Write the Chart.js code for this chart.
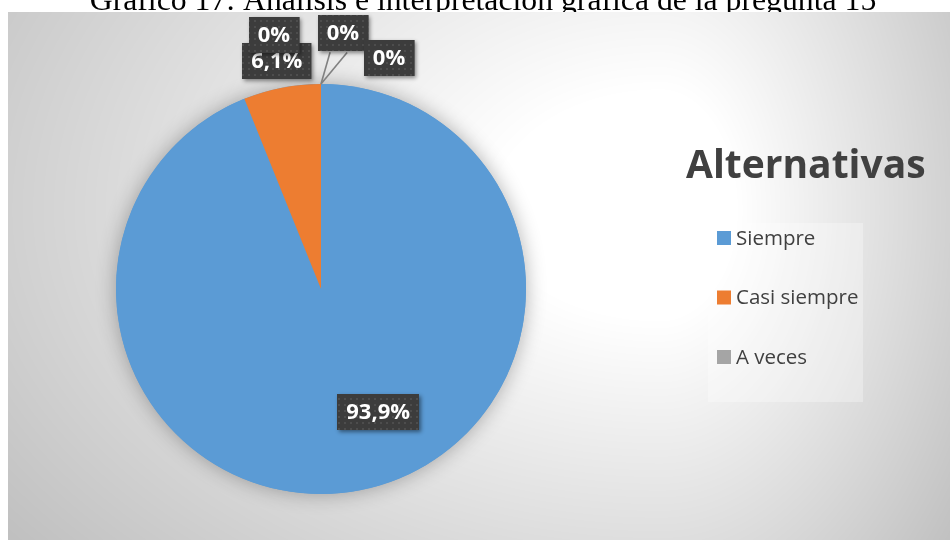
<!DOCTYPE html>
<html>
<head>
<meta charset="utf-8">
<script src="https://cdn.jsdelivr.net/npm/chart.js@4.4.0/dist/chart.umd.min.js"></script>
<style>
html,body{margin:0;padding:0;background:#ffffff;}
#wrap{position:relative;width:950px;height:540px;}
</style>
</head>
<body>
<div id="wrap"><canvas id="c"></canvas></div>
<script>
// ---- data ----
const docTitle = 'Gráfico 17: Análisis e interpretación gráfica de la pregunta 15';
const legendTitle = 'Alternativas';
const categories = ['Siempre', 'Casi siempre', 'A veces', 'Casi nunca', 'Nunca'];
const percentages = [93.9, 6.1, 0, 0, 0];
const sliceColors = ['#5B9BD5', '#ED7D31', '#A5A5A5', '#FFC000', '#4472C4'];
const legendShown = 3; // the reference legend lists only the first three categories

// ---- label placement (style, polar offsets relative to each slice) ----
const labelPlacement = [
  {dAngle: -14, radiusFactor: 0.66},
  {dAngle: 0, radiusAdd: 27},
  {dAngle: -10.5, radiusAdd: 53},
  {dAngle: 4.9, radiusAdd: 52, leader: {dAngle: 2.2, radiusAdd: 32}},
  {dAngle: 16.4, radiusAdd: 36, leader: {dAngle: 6.3, radiusAdd: 33}}
];

function fmtPct(v) {
  if (v === 0) return '0%';
  return v.toFixed(1).replace('.', ',') + '%';
}

// background gradient image
const BG = {x: 8, y: 12, w: 942, h: 528};
const bgCanvas = document.createElement('canvas');
(function buildBg() {
  bgCanvas.width = BG.w; bgCanvas.height = BG.h;
  const g = bgCanvas.getContext('2d');
  const img = g.createImageData(BG.w, BG.h);
  const cx = 660 - BG.x, cy = 210 - BG.y;
  for (let y = 0; y < BG.h; y++) {
    for (let x = 0; x < BG.w; x++) {
      const dx = x - cx, dy = y - cy;
      const rx = dx < 0 ? 660 : 300;
      const ry = dy < 0 ? 470 : 430;
      const t = Math.sqrt((dx / rx) * (dx / rx) + (dy / ry) * (dy / ry));
      let k = (t - 0.25) / 0.85; if (k < 0) k = 0; if (k > 1.2) k = 1.2;
      const c = Math.round(255 - 54 * k);
      const i = (y * BG.w + x) * 4;
      img.data[i] = c; img.data[i + 1] = c; img.data[i + 2] = c; img.data[i + 3] = 255;
    }
  }
  g.putImageData(img, 0, 0);
})();

// dotted pattern for label boxes
const patCanvas = document.createElement('canvas');
(function buildPat() {
  patCanvas.width = 6; patCanvas.height = 6;
  const g = patCanvas.getContext('2d');
  g.fillStyle = '#3c3c3c'; g.fillRect(0, 0, 6, 6);
  g.fillStyle = '#4d4d4d'; g.fillRect(2, 2, 2, 2);
})();

const backgroundPlugin = {
  id: 'bgPlugin',
  beforeDraw(chart) {
    const ctx = chart.ctx;
    ctx.save();
    ctx.fillStyle = '#ffffff';
    ctx.fillRect(0, 0, chart.width, chart.height);
    // document caption (partly hidden by the chart box)
    ctx.fillStyle = '#000000';
    let size = 26;
    ctx.font = size + 'px "Liberation Serif", "Times New Roman", serif';
    const w = ctx.measureText(docTitle).width;
    size = size * 787 / w;
    ctx.font = size + 'px "Liberation Serif", "Times New Roman", serif';
    ctx.textAlign = 'center';
    ctx.textBaseline = 'alphabetic';
    ctx.fillText(docTitle, 483, 10);
    ctx.drawImage(bgCanvas, BG.x, BG.y);
    ctx.restore();
  },
  beforeDatasetsDraw(chart) {
    const meta = chart.getDatasetMeta(0);
    const a = meta.data[0];
    if (!a) return;
    const ctx = chart.ctx;
    ctx.save();
    ctx.shadowColor = 'rgba(0,0,0,0.3)';
    ctx.shadowBlur = 20;
    ctx.beginPath();
    ctx.arc(a.x, a.y, a.outerRadius, 0, Math.PI * 2);
    ctx.fillStyle = sliceColors[0];
    ctx.fill();
    ctx.restore();
  }
};

const labelPlugin = {
  id: 'labelPlugin',
  afterDatasetsDraw(chart) {
    const ctx = chart.ctx;
    const meta = chart.getDatasetMeta(0);
    const values = chart.data.datasets[0].data;
    const deg = Math.PI / 180;
    // leader lines first
    ctx.save();
    ctx.strokeStyle = '#808080';
    ctx.lineWidth = 1.6;
    meta.data.forEach((arc, i) => {
      const p = labelPlacement[i];
      if (!p || !p.leader) return;
      const mid = (arc.startAngle + arc.endAngle) / 2;
      const ax = arc.x + Math.cos(mid) * arc.outerRadius;
      const ay = arc.y + Math.sin(mid) * arc.outerRadius;
      const la = mid + p.leader.dAngle * deg;
      const lr = arc.outerRadius + p.leader.radiusAdd;
      ctx.beginPath();
      ctx.moveTo(ax, ay);
      ctx.lineTo(arc.x + Math.cos(la) * lr, arc.y + Math.sin(la) * lr);
      ctx.stroke();
    });
    ctx.restore();

    const pattern = ctx.createPattern(patCanvas, 'repeat');
    meta.data.forEach((arc, i) => {
      const p = labelPlacement[i];
      const mid = (arc.startAngle + arc.endAngle) / 2 + p.dAngle * deg;
      const r = p.radiusFactor !== undefined ? arc.outerRadius * p.radiusFactor : arc.outerRadius + p.radiusAdd;
      const cx = arc.x + Math.cos(mid) * r;
      const cy = arc.y + Math.sin(mid) * r;
      const txt = fmtPct(values[i]);
      ctx.save();
      ctx.font = 'bold 22px "Open Sans", sans-serif';
      const tw = ctx.measureText(txt).width;
      const bw = tw + 18, bh = 36;
      const bx = Math.round(cx - bw / 2), by = Math.round(cy - bh / 2);
      ctx.shadowColor = 'rgba(0,0,0,0.45)';
      ctx.shadowBlur = 4;
      ctx.shadowOffsetX = 2;
      ctx.shadowOffsetY = 2;
      ctx.fillStyle = '#3c3c3c';
      ctx.fillRect(bx, by, bw, bh);
      ctx.shadowColor = 'transparent';
      ctx.fillStyle = pattern;
      ctx.fillRect(bx, by, bw, bh);
      ctx.fillStyle = '#ffffff';
      ctx.textAlign = 'center';
      ctx.textBaseline = 'middle';
      ctx.fillText(txt, cx, by + bh / 2 + 1);
      ctx.restore();
    });
  }
};

const legendPlugin = {
  id: 'legendPlugin',
  afterDraw(chart) {
    const ctx = chart.ctx;
    ctx.save();
    // legend frame (subtle)
    ctx.fillStyle = 'rgba(255,255,255,0.3)';
    ctx.fillRect(708, 223, 155, 179);
    ctx.fillStyle = '#404040';
    ctx.font = 'bold 39px "Open Sans", sans-serif';
    ctx.textAlign = 'left';
    ctx.textBaseline = 'alphabetic';
    ctx.fillText(legendTitle, 686, 178);
    ctx.font = '20.5px "Open Sans", sans-serif';
    ctx.textBaseline = 'middle';
    chart.data.labels.forEach((lab, i) => {
      if (i >= legendShown) return;
      const y = 238 + i * 59.5;
      ctx.fillStyle = sliceColors[i];
      ctx.fillRect(717, y - 7, 14, 14);
      ctx.fillStyle = '#404040';
      ctx.fillText(lab, 736, y + 1);
    });
    ctx.restore();
  }
};

new Chart(document.getElementById('c'), {
  type: 'pie',
  data: {
    labels: categories,
    datasets: [{
      data: percentages,
      backgroundColor: sliceColors,
      borderWidth: 0
    }]
  },
  options: {
    responsive: true,
    maintainAspectRatio: false,
    animation: false,
    layout: {padding: {left: 116, right: 424, top: 84, bottom: 46}},
    plugins: {
      legend: {display: false},
      tooltip: {enabled: false},
      title: {display: false}
    }
  },
  plugins: [backgroundPlugin, labelPlugin, legendPlugin]
});
</script>
</body>
</html>
